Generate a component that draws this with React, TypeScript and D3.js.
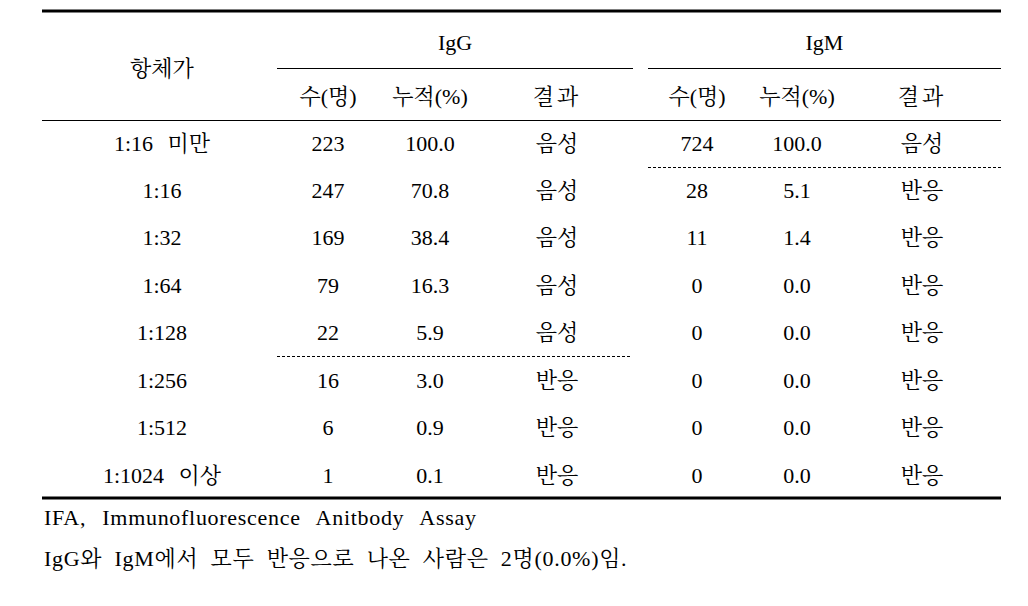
import React from "react";
import * as d3 from "d3";

const titers = ["1:16 미만", "1:16", "1:32", "1:64", "1:128", "1:256", "1:512", "1:1024 이상"];
const iggCount = ["223", "247", "169", "79", "22", "16", "6", "1"];
const iggCum = ["100.0", "70.8", "38.4", "16.3", "5.9", "3.0", "0.9", "0.1"];
const iggResult = ["음성", "음성", "음성", "음성", "음성", "반응", "반응", "반응"];
const igmCount = ["724", "28", "11", "0", "0", "0", "0", "0"];
const igmCum = ["100.0", "5.1", "1.4", "0.0", "0.0", "0.0", "0.0", "0.0"];
const igmResult = ["음성", "반응", "반응", "반응", "반응", "반응", "반응", "반응"];
const subHeaders = ["수(명)", "누적(%)", "결과"];
const groups = ["IgG", "IgM"];
const rowHeader = "항체가";
const notes = [
  "IFA, Immunofluorescence Anitbody Assay",
  "IgG와 IgM에서 모두 반응으로 나온 사람은 2명(0.0%)임.",
];

const W = 1028;
const H = 606;
const FONT = "'Liberation Serif', 'Noto Serif CJK KR', 'Noto Sans CJK KR', serif";

export default function App() {
  const cols = ["titer", "iggN", "iggC", "iggR", "igmN", "igmC", "igmR"];
  const x = d3.scaleOrdinal<string, number>().domain(cols).range([162, 328, 430, 557, 697, 797, 922]);
  const y = d3.scalePoint<string>().domain(titers).range([143, 475]);
  const left = 42, right = 1001;
  const iggSpan = [277, 633];
  const igmSpan = [648, 1001];
  const data = titers.map((t, i) => ({
    titer: t,
    iggN: iggCount[i], iggC: iggCum[i], iggR: iggResult[i],
    igmN: igmCount[i], igmC: igmCum[i], igmR: igmResult[i],
  }));
  const fs = 22;
  const iggDashAfter = iggResult.findIndex((r) => r === "반응") - 1;
  const igmDashAfter = igmResult.findIndex((r) => r === "반응") - 1;
  const step = y.step();
  const dashY = (i: number) => Math.round((y(titers[i]) as number) + step / 2) + 0.5;
  return (
    <svg width={W} height={H} style={{ position: "absolute", left: 0, top: 0 }} fontFamily={FONT} fill="#000">
      <rect width={W} height={H} fill="#fff" />
      <line x1={left} x2={right} y1={11} y2={11} stroke="#000" strokeWidth={3} />
      <line x1={iggSpan[0]} x2={iggSpan[1]} y1={68.5} y2={68.5} stroke="#000" strokeWidth={1} />
      <line x1={igmSpan[0]} x2={igmSpan[1]} y1={68.5} y2={68.5} stroke="#000" strokeWidth={1} />
      <line x1={left} x2={right} y1={120.5} y2={120.5} stroke="#000" strokeWidth={1} />
      <line x1={left} x2={right} y1={498} y2={498} stroke="#000" strokeWidth={3} />
      <text x={x("titer")} y={68} fontSize={fs} textAnchor="middle" dominantBaseline="central">{rowHeader}</text>
      <text x={(iggSpan[0] + iggSpan[1]) / 2} y={42} fontSize={fs} textAnchor="middle" dominantBaseline="central">{groups[0]}</text>
      <text x={(igmSpan[0] + igmSpan[1]) / 2} y={42} fontSize={fs} textAnchor="middle" dominantBaseline="central">{groups[1]}</text>
      {["iggN", "iggC", "iggR", "igmN", "igmC", "igmR"].map((c, i) => (
        <text key={c} x={x(c)} y={96} fontSize={fs} textAnchor="middle" dominantBaseline="central" letterSpacing={i % 3 === 2 ? 3 : 0}>{subHeaders[i % 3]}</text>
      ))}
      {data.map((d) => (
        <g key={d.titer}>
          {cols.map((c) => (
            <text key={c} x={x(c)} y={y(d.titer)} fontSize={fs} textAnchor="middle" dominantBaseline="central" wordSpacing={9}>{(d as any)[c]}</text>
          ))}
        </g>
      ))}
      <line x1={iggSpan[0]} x2={630} y1={dashY(iggDashAfter)} y2={dashY(iggDashAfter)}
        stroke="#000" strokeWidth={1} strokeDasharray="3,2" />
      <line x1={igmSpan[0]} x2={igmSpan[1]} y1={dashY(igmDashAfter)} y2={dashY(igmDashAfter)}
        stroke="#000" strokeWidth={1} strokeDasharray="3,2" />
      <text x={44} y={517} fontSize={fs} dominantBaseline="central" wordSpacing={10} letterSpacing={0.7}>{notes[0]}</text>
      <text x={44} y={558} fontSize={fs} dominantBaseline="central" wordSpacing={6} letterSpacing={0.7}>{notes[1]}</text>
    </svg>
  );
}
